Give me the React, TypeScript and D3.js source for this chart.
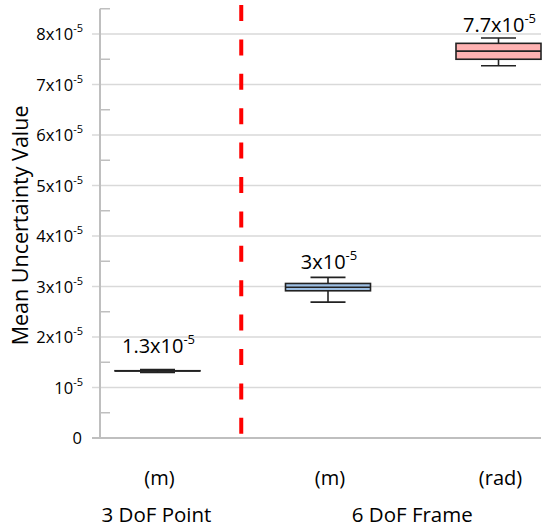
import React from "react";
import * as d3 from "d3";

const categories = ["(m)", "(m)", "(rad)"];
const groupNames = ["3 DoF Point", "6 DoF Frame"];
const groupMembers = [[0], [1, 2]];
// values in units of 1e-5
const mins = [1.3, 2.69, 7.37];
const q1s = [1.328, 2.915, 7.5];
const medians = [1.33, 2.985, 7.66];
const q3s = [1.332, 3.06, 7.815];
const maxs = [1.355, 3.18, 7.92];
const labelMantissas = ["1.3", "3", "7.7"];
const boxFills = ["#333333", "#9dbfe4", "#ffb2b2"];
const yTicks = [0, 1, 2, 3, 4, 5, 6, 7, 8];
const yMinorTicks = [0.5, 1.5, 2.5, 3.5, 4.5, 5.5, 6.5, 7.5, 8.5];
const yTitle = "Mean Uncertainty Value";

const W = 550;
const H = 531;
const FONT = "'Open Sans', sans-serif";

export default function App() {
  const y = d3.scaleLinear().domain([0, 8]).range([438, 34]);
  const x = d3.scalePoint<number>().domain([0, 1, 2]).range([157.5, 498.5]);
  const left = 100;
  const right = 541;
  const boxW = 85;
  const capW = 35;
  const labelGaps = [17, 8, 6];
  const dividerX = ((x(0) as number) + (x(1) as number)) / 2 - 1.5;

  return (
    <svg
      width={W}
      height={H}
      style={{ position: "absolute", left: 0, top: 0, background: "#fff" }}
      fontFamily={FONT}
    >
      {/* gridlines */}
      {yTicks.filter((t) => t > 0).map((t) => (
        <line key={"g" + t} x1={92} x2={right} y1={y(t)} y2={y(t)} stroke="#d9d9d9" strokeWidth={1.5} />
      ))}
      {/* minor ticks */}
      {yMinorTicks.map((t) => (
        <line key={"m" + t} x1={left} x2={left + 10} y1={y(t)} y2={y(t)} stroke="#bfbfbf" strokeWidth={1.5} />
      ))}
      {/* axes */}
      <line x1={left} x2={left} y1={y(8.5)} y2={y(0)} stroke="#bfbfbf" strokeWidth={2} />
      <line x1={92} x2={right} y1={y(0)} y2={y(0)} stroke="#bfbfbf" strokeWidth={2} />
      {/* y tick labels */}
      {yTicks.map((t) => (
        <text key={"t" + t} x={t === 0 ? 82 : 83} y={y(t) + 6} textAnchor="end" fontSize={16.5} fill="#000">
          {t === 0 ? (
            "0"
          ) : (
            <>
              {t === 1 ? "10" : `${t}x10`}
              <tspan fontSize={11} dy={-8}>-5</tspan>
            </>
          )}
        </text>
      ))}
      {/* y title */}
      <text
        transform={`translate(28,${(y(0) + y(8.5)) / 2 + 2}) rotate(-90)`}
        textAnchor="middle"
        fontSize={21.5}
        fill="#000"
      >
        {yTitle}
      </text>
      {/* divider */}
      <line
        x1={dividerX}
        x2={dividerX}
        y1={5}
        y2={436}
        stroke="#ff0000"
        strokeWidth={4}
        strokeDasharray="16 18.4"
      />
      {/* boxes */}
      {categories.map((c, i) => {
        const cx = x(i) as number;
        return (
          <g key={"b" + i} stroke="#222" strokeWidth={1.6}>
            <line x1={cx} x2={cx} y1={y(maxs[i])} y2={y(q3s[i])} />
            <line x1={cx} x2={cx} y1={y(q1s[i])} y2={y(mins[i])} />
            <line x1={cx - capW / 2} x2={cx + capW / 2} y1={y(maxs[i])} y2={y(maxs[i])} />
            <line x1={cx - capW / 2} x2={cx + capW / 2} y1={y(mins[i])} y2={y(mins[i])} />
            <rect
              x={cx - boxW / 2}
              width={boxW}
              y={y(q3s[i])}
              height={Math.max(0.1, y(q1s[i]) - y(q3s[i]))}
              fill={boxFills[i]}
            />
            <line x1={cx - boxW / 2} x2={cx + boxW / 2} y1={y(medians[i])} y2={y(medians[i])} />
          </g>
        );
      })}
      {/* value labels */}
      {categories.map((c, i) => (
        <text
          key={"l" + i}
          x={(x(i) as number) + 1}
          y={y(maxs[i]) - labelGaps[i]}
          textAnchor="middle"
          fontSize={20}
          fill="#000"
        >
          {`${labelMantissas[i]}x10`}
          <tspan fontSize={13} dy={-9}>-5</tspan>
        </text>
      ))}
      {/* category labels */}
      {categories.map((c, i) => (
        <text key={"c" + i} x={(x(i) as number) + 2} y={485} textAnchor="middle" fontSize={20} fill="#000">
          {c}
        </text>
      ))}
      {groupNames.map((g, gi) => {
        const xs = groupMembers[gi].map((i) => x(i) as number);
        return (
          <text key={"gn" + gi} x={d3.mean(xs)! - 1} y={522} textAnchor="middle" fontSize={20.5} fill="#000">
            {g}
          </text>
        );
      })}
    </svg>
  );
}
